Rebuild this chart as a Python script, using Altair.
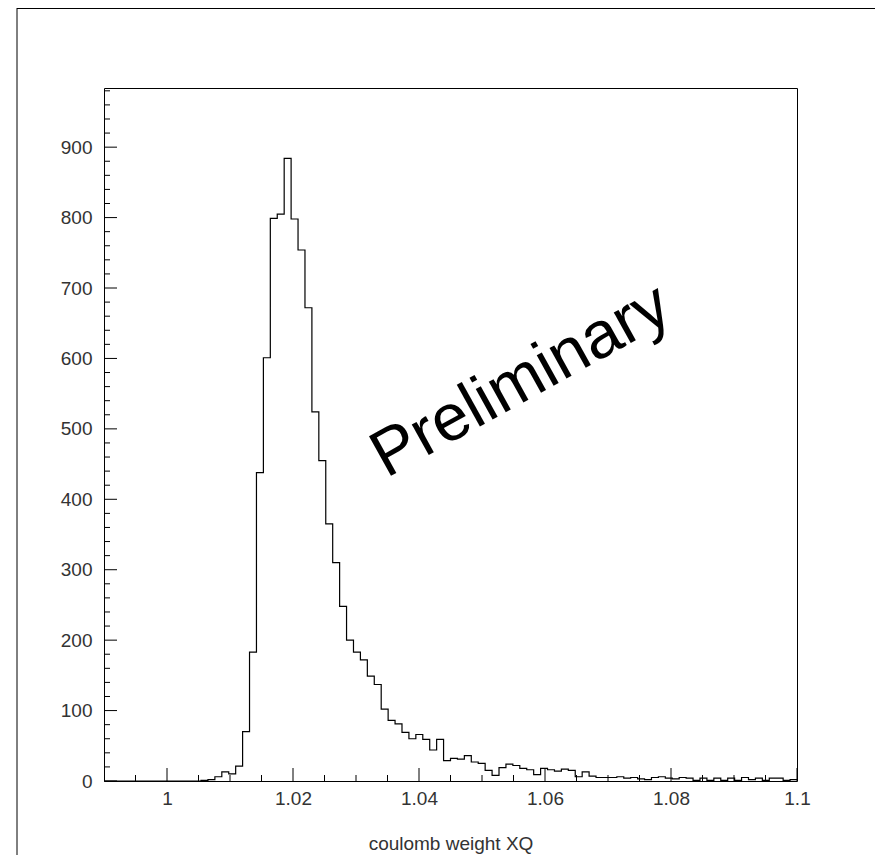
import altair as alt
import pandas as pd

# ---- data ----
x_min, x_max = 0.99, 1.10
n_bins = 100
counts = [
    0, 0, 0, 0, 0, 0, 0, 0, 0, 0,
    0, 0, 0, 0, 1, 2, 6, 13, 10, 21,
    70, 183, 438, 601, 799, 805, 884, 798, 754, 672,
    524, 455, 365, 310, 248, 200, 183, 172, 149, 137,
    102, 86, 81, 69, 60, 66, 59, 44, 59, 29,
    32, 31, 36, 27, 25, 15, 8, 19, 24, 22,
    18, 16, 9, 18, 16, 14, 17, 15, 6, 13,
    7, 5, 5, 5, 6, 4, 5, 3, 2, 5,
    6, 4, 3, 5, 4, 1, 4, 1, 4, 1,
    4, 1, 5, 2, 4, 1, 4, 4, 1, 2,
]
y_max = 984

x_major = [1.0, 1.02, 1.04, 1.06, 1.08, 1.1]
x_minor = [0.995, 1.005, 1.01, 1.015, 1.025, 1.03, 1.035, 1.045, 1.05, 1.055,
           1.065, 1.07, 1.075, 1.085, 1.09, 1.095]
y_major = [0, 100, 200, 300, 400, 500, 600, 700, 800, 900]
y_minor = [v for v in range(20, 1000, 20) if v % 100 != 0]

watermark = "Preliminary"
watermark_x = 1.0577
watermark_y = 543
x_title = "coulomb weight XQ"

# ---- tables ----
bw = (x_max - x_min) / n_bins
edges = [x_min + i * bw for i in range(n_bins + 1)]
hist = pd.DataFrame({"x": edges, "n": counts + [counts[-1]]})

W = H = 693
FONT = "Liberation Sans"

xs = alt.Scale(domain=[x_min, x_max], nice=False, zero=False)
ys = alt.Scale(domain=[0, y_max], nice=False, zero=True)

x_axis = alt.Axis(values=x_major, format="~g", ticks=False, domain=False,
                  grid=False, labelFont=FONT, labelFontSize=19,
                  labelColor="#333", labelPadding=8, titleFont=FONT,
                  titleFontSize=19, titleFontWeight="normal",
                  titleColor="#333", titlePadding=26, labelFlush=False)
y_axis = alt.Axis(values=y_major, ticks=False, domain=False, grid=False,
                  labelFont=FONT, labelFontSize=19, labelColor="#333",
                  labelPadding=12, labelFlush=False)


def X(field):
    return alt.X(field, scale=xs, title=x_title, axis=x_axis)


def Y(field):
    return alt.Y(field, scale=ys, title=None, axis=y_axis)


hist_layer = alt.Chart(hist).mark_line(
    interpolate="step-after", color="black", strokeWidth=1.2
).encode(x=X("x:Q"), y=Y("n:Q"))

xt_major = alt.Chart(pd.DataFrame({"v": x_major})).mark_rule(color="black", strokeWidth=1).encode(
    x=X("v:Q"), y=alt.value(H), y2=alt.value(H - 13))
xt_minor = alt.Chart(pd.DataFrame({"v": x_minor})).mark_rule(color="black", strokeWidth=1).encode(
    x=X("v:Q"), y=alt.value(H), y2=alt.value(H - 6))
yt_major = alt.Chart(pd.DataFrame({"v": y_major})).mark_rule(color="black", strokeWidth=1).encode(
    y=Y("v:Q"), x=alt.value(0), x2=alt.value(13))
yt_minor = alt.Chart(pd.DataFrame({"v": y_minor})).mark_rule(color="black", strokeWidth=1).encode(
    y=Y("v:Q"), x=alt.value(0), x2=alt.value(6))

text_layer = alt.Chart(pd.DataFrame({"x": [watermark_x], "y": [watermark_y], "t": [watermark]})).mark_text(
    font=FONT, fontSize=66, angle=331, align="center", baseline="alphabetic", color="black"
).encode(x=X("x:Q"), y=Y("y:Q"), text="t:N")

frame_left = alt.Chart(pd.DataFrame({"a": [0]})).mark_rule(color="black", strokeWidth=1).encode(
    x=alt.value(-87), y=alt.value(-80), y2=alt.value(H + 80))
frame_top = alt.Chart(pd.DataFrame({"a": [0]})).mark_rule(color="black", strokeWidth=1).encode(
    y=alt.value(-79.5), x=alt.value(-87), x2=alt.value(W + 90))

chart = alt.layer(
    hist_layer, xt_major, xt_minor, yt_major, yt_minor, text_layer, frame_left, frame_top
).properties(
    width=W, height=H,
    autosize=alt.AutoSizeParams(type="none"),
    padding={"left": 96, "top": 80, "right": 78, "bottom": 74},
    background="white",
).configure_view(stroke="black", strokeWidth=1)

chart.save("out.html", embed_options={"renderer": "svg", "actions": False})
